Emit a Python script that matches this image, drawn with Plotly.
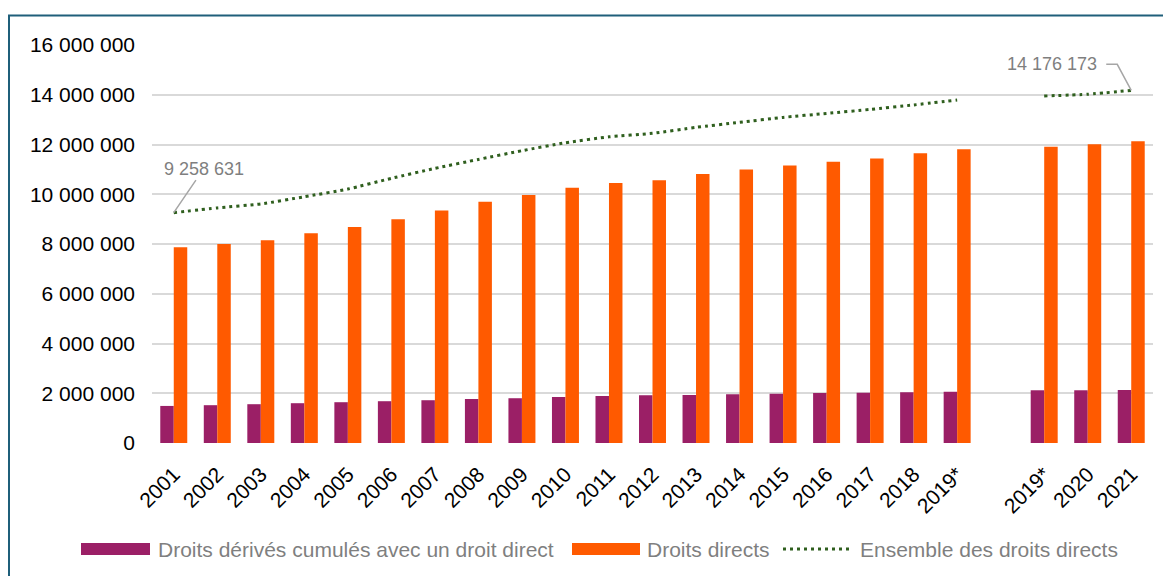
import plotly.graph_objects as go

# ---------------- data ----------------
categories = ["2001", "2002", "2003", "2004", "2005", "2006", "2007", "2008", "2009", "2010",
              "2011", "2012", "2013", "2014", "2015", "2016", "2017", "2018", "2019*",
              "", "2019*", "2020", "2021"]

droits_derives = [1490000, 1520000, 1560000, 1600000, 1640000, 1680000, 1720000, 1770000,
                  1800000, 1850000, 1890000, 1920000, 1930000, 1960000, 1980000, 2010000,
                  2020000, 2040000, 2060000, None, 2120000, 2120000, 2130000]

droits_directs = [7870000, 8000000, 8150000, 8430000, 8680000, 9000000, 9350000, 9700000,
                  9970000, 10260000, 10450000, 10560000, 10810000, 11000000, 11160000,
                  11310000, 11440000, 11650000, 11810000, None, 11910000, 12010000, 12130000]

ensemble = [9258631, 9450000, 9610000, 9900000, 10210000, 10640000, 11040000, 11400000,
            11750000, 12070000, 12310000, 12450000, 12690000, 12890000, 13090000, 13250000,
            13410000, 13590000, 13790000, None, 13950000, 14020000, 14176173]

y_tickvals = [0, 2000000, 4000000, 6000000, 8000000, 10000000, 12000000, 14000000, 16000000]
y_ticktext = ["0", "2 000 000", "4 000 000", "6 000 000", "8 000 000", "10 000 000",
              "12 000 000", "14 000 000", "16 000 000"]

legend_labels = ["Droits dérivés cumulés avec un droit direct", "Droits directs",
                 "Ensemble des droits directs"]
label_first = "9 258 631"
label_last = "14 176 173"

# ---------------- styling ----------------
OFF = 8  # page body margin
W, H = 1171 - OFF, 576 - OFF
ML, MT = 152 - OFF, 45 - OFF
MR = W - (1153 - OFF)
MB = H - (443 - OFF)
PW, PH = W - ML - MR, H - MT - MB
FONT = "Liberation Sans, Arial, sans-serif"
PURPLE = "#9B1F66"
ORANGE = "#FF5A00"
GREEN = "#2F5F1E"
GRAY_TXT = "#7F7F7F"
LEADER = "#A6A6A6"


def px_x(p):  # screen pixel -> paper
    return (p - OFF - ML) / PW


def px_y(p):
    return (H - MB - (p - OFF)) / PH


x_idx = list(range(len(categories)))

fig = go.Figure()
fig.add_trace(go.Bar(x=x_idx, y=droits_derives, name=legend_labels[0],
                     marker=dict(color=PURPLE, line=dict(width=0))))
fig.add_trace(go.Bar(x=x_idx, y=droits_directs, name=legend_labels[1],
                     marker=dict(color=ORANGE, line=dict(width=0))))
fig.add_trace(go.Scatter(x=x_idx, y=ensemble, name=legend_labels[2], mode="lines",
                         connectgaps=False,
                         line=dict(color=GREEN, width=3, dash="3px,4px",
                                   shape="spline", smoothing=0.5)))

fig.update_layout(
    width=W, height=H,
    margin=dict(l=ML, r=MR, t=MT, b=MB),
    paper_bgcolor="white", plot_bgcolor="white",
    barmode="group", bargap=0.38, bargroupgap=0,
    showlegend=False,
    font=dict(family=FONT, size=21, color="black"),
)

fig.update_xaxes(range=[-0.5, len(categories) - 0.5], tickmode="array",
                 tickvals=x_idx, ticktext=categories, tickangle=-45,
                 showgrid=False, zeroline=False, showline=False, ticks="",
                 ticklabelstandoff=14,
                 tickfont=dict(family=FONT, size=21, color="black"))
fig.update_yaxes(range=[0, 16000000], tickmode="array", tickvals=y_tickvals,
                 ticktext=y_ticktext, showgrid=True, gridcolor="#D9D9D9", gridwidth=2,
                 zeroline=False, showline=False, ticks="", ticklabelstandoff=16,
                 tickfont=dict(family=FONT, size=21, color="black"))

# data labels
fig.add_annotation(x=x_idx[0], y=ensemble[0], text=label_first, showarrow=True,
                   arrowhead=0, arrowwidth=1.5, arrowcolor=LEADER, ax=30, ay=-44,
                   font=dict(family=FONT, size=18, color=GRAY_TXT))
fig.add_annotation(x=x_idx[-1], y=ensemble[-1], text=label_last, showarrow=False,
                   xshift=-79, yshift=26,
                   font=dict(family=FONT, size=18, color=GRAY_TXT))
fig.add_shape(type="path", xref="x", yref="y", xsizemode="pixel", ysizemode="pixel",
              xanchor=x_idx[-1], yanchor=ensemble[-1],
              path="M0,0 L-14,26 L-25,26", line=dict(color=LEADER, width=1.5))

# outer frame
fig.add_shape(type="rect", xref="paper", yref="paper",
              x0=px_x(9), x1=px_x(1185), y0=px_y(590), y1=px_y(15.5),
              line=dict(color="#1F5F7A", width=2), fillcolor="rgba(0,0,0,0)")

# custom legend
LY = 549
fig.add_shape(type="rect", xref="paper", yref="paper", x0=px_x(81), x1=px_x(150),
              y0=px_y(555), y1=px_y(543), fillcolor=PURPLE, line=dict(width=0))
fig.add_annotation(xref="paper", yref="paper", x=px_x(156), y=px_y(LY), xanchor="left",
                   yanchor="middle", showarrow=False, text=legend_labels[0],
                   font=dict(family=FONT, size=21, color=GRAY_TXT))
fig.add_shape(type="rect", xref="paper", yref="paper", x0=px_x(572), x1=px_x(640),
              y0=px_y(555), y1=px_y(543), fillcolor=ORANGE, line=dict(width=0))
fig.add_annotation(xref="paper", yref="paper", x=px_x(645), y=px_y(LY), xanchor="left",
                   yanchor="middle", showarrow=False, text=legend_labels[1],
                   font=dict(family=FONT, size=21, color=GRAY_TXT))
fig.add_shape(type="line", xref="paper", yref="paper", x0=px_x(783), x1=px_x(849),
              y0=px_y(LY), y1=px_y(LY), line=dict(color=GREEN, width=3, dash="3px,4px"))
fig.add_annotation(xref="paper", yref="paper", x=px_x(858), y=px_y(LY), xanchor="left",
                   yanchor="middle", showarrow=False, text=legend_labels[2],
                   font=dict(family=FONT, size=21, color=GRAY_TXT))

fig.write_html("out.html")
